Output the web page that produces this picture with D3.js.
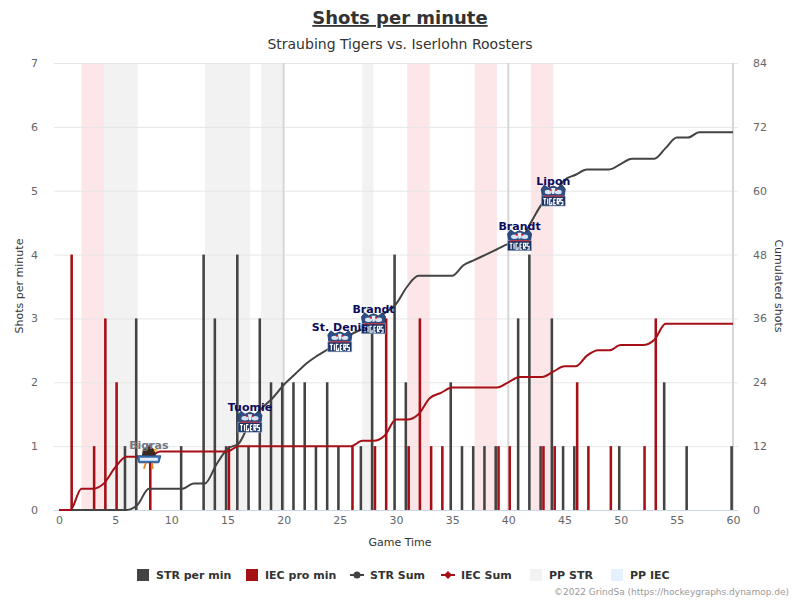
<!DOCTYPE html>
<html>
<head>
<meta charset="utf-8">
<script src="https://cdn.jsdelivr.net/npm/d3@7"></script>
<style>
  body { margin: 0; background: #fff; }
  text { font-family: "DejaVu Sans", sans-serif; }
</style>
</head>
<body>
<div id="chart"></div>
<script>
// shots per minute (bars)
var strMin   = [6,7,11,13,14,15,16,17,18,19,20,21,22,23,24,25,27,28,30,31,35,36,37,38,39,41,42,43,44,45,46,50,54,56,60];
var strShots = [1,3,1,4,3,1,4,1,3,2,2,2,2,1,2,1,1,3,4,2,2,1,1,1,1,3,4,1,3,1,1,1,2,1,1];
var iecMin   = [1,3,4,5,8,15,26,28,29,31,32,33,34,39,40,43,44,46,47,49,52,53];
var iecShots = [4,1,3,2,1,1,1,1,3,1,3,1,1,1,1,1,1,2,1,1,1,3];

// cumulated shots, one value per minute 0..60
var strSum = [0,0,0,0,0,0,0,1,4,4, 4,4,5,5,8.5,11.5,12.5,16.5,19,21, 23.5,25.5,27.5,29,30.3,31.6,33,34,35,37,
              38.7,42,44,44,44,44,46,47,48,49, 50,50.6,54,57.5,59,62,63,64,64,64, 65,66,66,66,68,70,70,71,71,71, 71];
var iecSum = [0,0,4,4,5,8,10,10,10,11, 11,11,11,11,11,11,12,12,12,12, 12,12,12,12,12,12,12,13,13,14,
              17,17,18,21,22,23,23,23,23,23, 24,25,25,25,26,27,27,29,30,30, 31,31,31,32,35,35,35,35,35,35, 35];

// power play periods [start, end]
var ppStr = [[4,7],[13,17],[18,20],[27,28]];
var ppIec = [[2,4],[31,33],[37,39],[42,44]];
var periodEnds = [20,40,60];

// goals
var goalMin    = [8,17,25,28,41,44];
var goalPlayer = ["Bigras","Tuomie","St. Denis","Brandt","Brandt","Lipon"];
var goalTeam   = ["IEC","STR","STR","STR","STR","STR"];

var xTicks = [0,5,10,15,20,25,30,35,40,45,50,55,60];
var yTicks = [0,1,2,3,4,5,6,7];
var yRTicks = [0,12,24,36,48,60,72,84];

var W = 800, H = 600;
var plotL = 54, plotR = 738, plotT = 63, plotB = 510;
var STR_C = "#434343", IEC_C = "#a50f15";

var svg = d3.select("#chart").append("svg")
    .attr("width", W).attr("height", H);

var x = d3.scaleLinear().domain([0,60]).range([59,733]);
var y = d3.scaleLinear().domain([0,7]).range([plotB,plotT]);
var yR = d3.scaleLinear().domain([0,84]).range([plotB,plotT]);
var sub = d3.scaleBand().domain(["STR","IEC"]).range([-2.7,2.7]).paddingInner(0.1);

// title
svg.append("text").attr("x",400).attr("y",24).attr("text-anchor","middle")
    .style("font-size","18px").style("font-weight","bold").style("fill","#333")
    .style("text-decoration","underline")
    .text("Shots per minute");
svg.append("text").attr("x",400).attr("y",49).attr("text-anchor","middle")
    .style("font-size","14px").style("fill","#333")
    .text("Straubing Tigers vs. Iserlohn Roosters");

// bands
svg.append("g").selectAll("rect").data(ppStr).enter().append("rect")
    .attr("x",d=>x(d[0])).attr("width",d=>x(d[1])-x(d[0]))
    .attr("y",plotT).attr("height",plotB-plotT).attr("fill","#f2f2f2");
svg.append("g").selectAll("rect").data(ppIec).enter().append("rect")
    .attr("x",d=>x(d[0])).attr("width",d=>x(d[1])-x(d[0]))
    .attr("y",plotT).attr("height",plotB-plotT).attr("fill","#fde6e8");

// grid
svg.append("g").selectAll("line").data(yTicks).enter().append("line")
    .attr("x1",plotL).attr("x2",plotR)
    .attr("y1",d=>y(d)+0.5).attr("y2",d=>y(d)+0.5)
    .attr("stroke","#e6e6e6");

// period lines
svg.append("g").selectAll("line").data(periodEnds).enter().append("line")
    .attr("x1",d=>x(d)).attr("x2",d=>x(d))
    .attr("y1",plotT).attr("y2",plotB)
    .attr("stroke","#d6d6d6").attr("stroke-width",2);

// x axis line
svg.append("line").attr("x1",plotL).attr("x2",plotR)
    .attr("y1",plotB+0.5).attr("y2",plotB+0.5).attr("stroke","#ccd6eb");

// axes
var xAxis = svg.append("g").attr("transform","translate(0,"+plotB+")")
    .call(d3.axisBottom(x).tickValues(xTicks).tickSize(0).tickPadding(14));
var yAxis = svg.append("g").attr("transform","translate("+(plotL-16)+",0)")
    .call(d3.axisLeft(y).tickValues(yTicks).tickFormat(d3.format("d")).tickSize(0).tickPadding(0));
var yRAxis = svg.append("g").attr("transform","translate("+(plotR+15)+",0)")
    .call(d3.axisRight(yR).tickValues(yRTicks).tickFormat(d3.format("d")).tickSize(0).tickPadding(0));
[xAxis,yAxis,yRAxis].forEach(function(a){
  a.select(".domain").remove();
  a.selectAll("text").style("font-size","11px").style("fill","#666")
    .style("font-family","'DejaVu Sans', sans-serif");
});
xAxis.selectAll("text").attr("dy","0");

svg.append("text").attr("x",400).attr("y",546).attr("text-anchor","middle")
    .style("font-size","11px").style("fill","#333").text("Game Time");
svg.append("text").attr("transform","translate(23,286) rotate(-90)").attr("text-anchor","middle")
    .style("font-size","11px").style("fill","#333").text("Shots per minute");
svg.append("text").attr("transform","translate(775,286) rotate(90)").attr("text-anchor","middle")
    .style("font-size","11px").style("fill","#333").text("Cumulated shots");

// bars
svg.append("g").selectAll("rect").data(strMin).enter().append("rect")
    .attr("x",(d)=>x(d)+sub("STR")).attr("width",sub.bandwidth())
    .attr("y",(d,i)=>y(strShots[i])).attr("height",(d,i)=>y(0)-y(strShots[i]))
    .attr("fill",STR_C);
svg.append("g").selectAll("rect").data(iecMin).enter().append("rect")
    .attr("x",(d)=>x(d)+sub("IEC")).attr("width",sub.bandwidth())
    .attr("y",(d,i)=>y(iecShots[i])).attr("height",(d,i)=>y(0)-y(iecShots[i]))
    .attr("fill",IEC_C);

// cumulated lines
var line = d3.line().x((d,i)=>x(i)).y(d=>yR(d)).curve(d3.curveMonotoneX);
svg.append("path").datum(strSum).attr("d",line)
    .attr("fill","none").attr("stroke",STR_C).attr("stroke-width",2);
svg.append("path").datum(iecSum).attr("d",line)
    .attr("fill","none").attr("stroke",IEC_C).attr("stroke-width",2);

// goal markers (drawn logos)
function tigersLogo(g){
  g.append("path").attr("d","M-11,0 L-12,-7 L-9,-11 L-5,-8 L0,-10 L5,-8 L9,-11 L12,-7 L11,0 Z")
    .attr("fill","#2d4f86").attr("stroke","#1a3563").attr("stroke-width",0.8);
  g.append("ellipse").attr("cx",-5).attr("cy",-4).attr("rx",3.5).attr("ry",2.2).attr("fill","#d9e4f3");
  g.append("ellipse").attr("cx",5).attr("cy",-4).attr("rx",3.5).attr("ry",2.2).attr("fill","#d9e4f3");
  g.append("path").attr("d","M-2,-8 L2,-8 L1,-2 L-1,-2 Z").attr("fill","#e9eff8");
  g.append("circle").attr("cx",-3).attr("cy",-6).attr("r",0.9).attr("fill","#d0202e");
  g.append("circle").attr("cx",3).attr("cy",-6).attr("r",0.9).attr("fill","#d0202e");
  g.append("rect").attr("x",-12).attr("y",0).attr("width",24).attr("height",10)
    .attr("fill","#1a3563").attr("stroke","#9fb5d6").attr("stroke-width",0.6);
  g.append("path").attr("d","M-10,0 L10,0").attr("stroke","#d0202e").attr("stroke-width",1);
  // lettering drawn as strokes
  var lp = g.append("g").attr("stroke","#fff").attr("stroke-width",1.2).attr("fill","none");
  lp.append("path").attr("d","M-10,2.5 L-7,2.5 M-8.5,2.5 L-8.5,8.5 M-5.5,2.5 L-5.5,8.5 " +
      "M-1.5,2.5 L-3.5,2.5 L-3.5,8.5 L-1.5,8.5 L-1.5,6 M0.5,2.5 L0.5,8.5 L2.5,8.5 M0.5,5.5 L2,5.5 M0.5,2.5 L2.5,2.5 " +
      "M4,8.5 L4,2.5 L6,2.5 L6,5.5 L4,5.5 L6,8.5 M9.5,2.5 L7.5,2.5 L7.5,5.5 L9.5,5.5 L9.5,8.5 L7.5,8.5");
}
function roostersLogo(g){
  g.append("path").attr("d","M-7,-1 L-6,-7 L-2,-10 L2,-10 L6,-7 L7,-1 Z").attr("fill","#3a2a20");
  g.append("path").attr("d","M-3,-10 L-2,-13 L0,-11 L1,-14 L3,-10 Z").attr("fill","#c0282e");
  g.append("path").attr("d","M5,-8 L10,-7 L5,-5 Z").attr("fill","#e8a030");
  g.append("path").attr("d","M-12,-1 L12,-1 L10,6 L-10,6 Z").attr("fill","#3c73b8")
    .attr("stroke","#1d3d70").attr("stroke-width",0.8);
  g.append("rect").attr("x",-9).attr("y",1).attr("width",18).attr("height",3).attr("fill","#e3edf9");
  g.append("path").attr("d","M-3,6 L-5,12 M3,6 L4,12").attr("stroke","#e08a20").attr("stroke-width",1.8);
}
var goals = svg.append("g");
goalMin.forEach(function(m,i){
  var v = goalTeam[i] === "STR" ? strSum[m] : iecSum[m];
  var g = goals.append("g").attr("transform","translate("+x(m)+","+yR(v)+")");
  if (goalTeam[i] === "STR") tigersLogo(g);
  else roostersLogo(g);
});
goalMin.forEach(function(m,i){
  var v = goalTeam[i] === "STR" ? strSum[m] : iecSum[m];
  goals.append("text").attr("x",x(m)).attr("y",yR(v) - (goalTeam[i] === "STR" ? 11 : 8))
    .attr("text-anchor","middle")
    .style("font-size","11px").style("font-weight","bold")
    .style("fill",goalTeam[i] === "STR" ? "#0c0c5c" : "#6e7782")
    .text(goalPlayer[i]);
});

// legend
var legItems = [
  {name:"STR per min", type:"box", color:STR_C, x:137},
  {name:"IEC pro min", type:"box", color:IEC_C, x:246},
  {name:"STR Sum", type:"line", color:STR_C, x:350},
  {name:"IEC Sum", type:"diamond", color:IEC_C, x:441},
  {name:"PP STR", type:"box", color:"#f2f2f2", x:530},
  {name:"PP IEC", type:"box", color:"#e6f0ff", x:611}
];
var leg = svg.append("g").attr("transform","translate(0,575)");
legItems.forEach(function(it){
  var g = leg.append("g").attr("transform","translate("+it.x+",0)");
  if (it.type === "box") {
    g.append("rect").attr("x",0).attr("y",-6).attr("width",12).attr("height",12).attr("fill",it.color);
  } else {
    g.append("line").attr("x1",0).attr("x2",14).attr("y1",0).attr("y2",0)
      .attr("stroke",it.color).attr("stroke-width",2);
    if (it.type === "line") g.append("circle").attr("cx",7).attr("cy",0).attr("r",3.5).attr("fill",it.color);
    else g.append("path").attr("d","M7,-4 L11,0 L7,4 L3,0 Z").attr("fill",it.color);
  }
  g.append("text").attr("x",it.type === "box" ? 19 : 20).attr("y",4)
    .style("font-size","11px").style("font-weight","bold").style("fill","#333")
    .text(it.name);
});

svg.append("text").attr("x",789).attr("y",595).attr("text-anchor","end")
  .style("font-size","9px").style("fill","#999")
  .text("\u00a92022 GrindSa (https://hockeygraphs.dynamop.de)");
</script>
</body>
</html>
